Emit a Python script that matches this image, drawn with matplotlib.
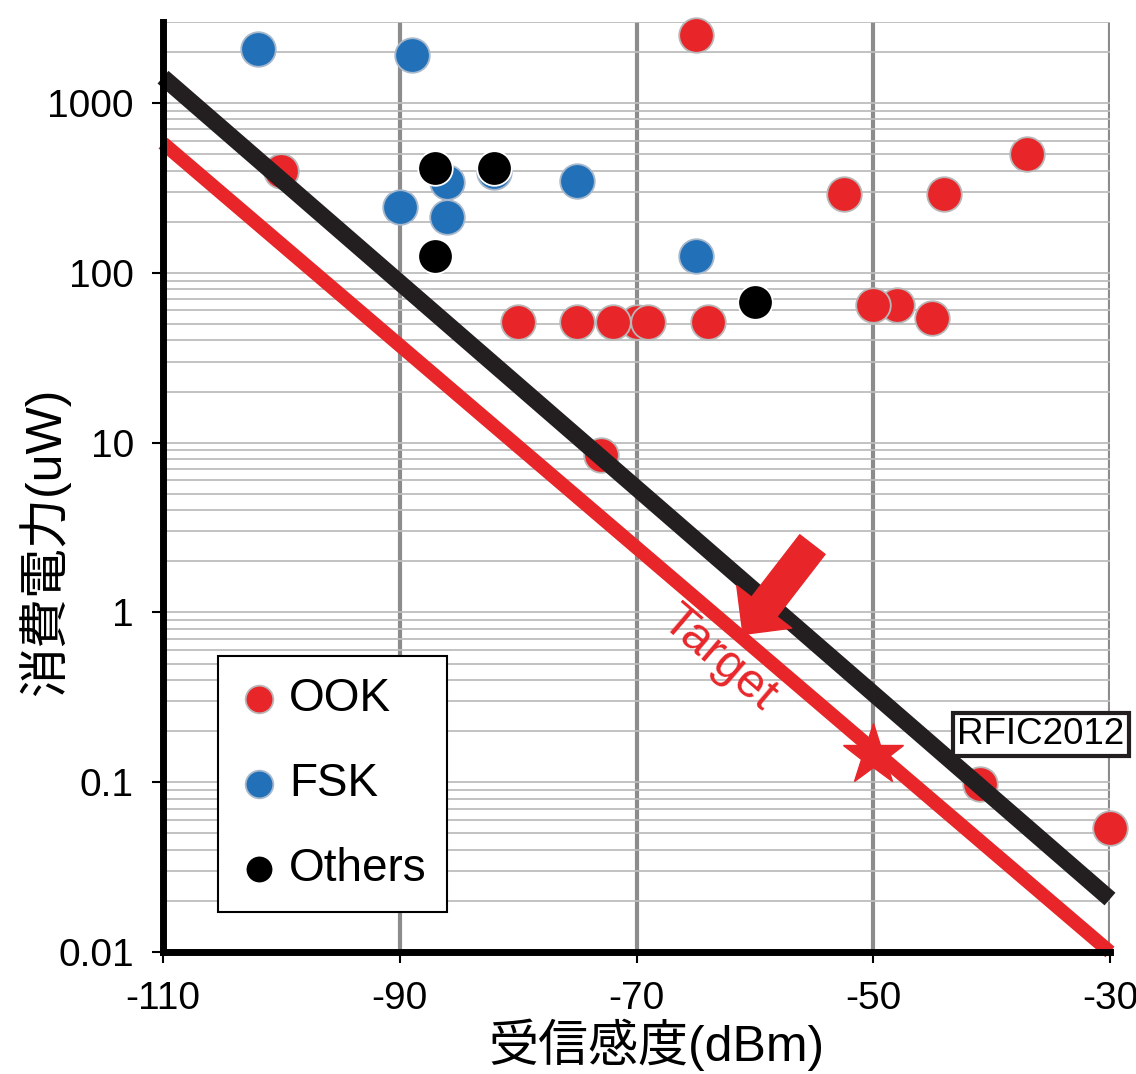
import matplotlib
matplotlib.use('Agg')
import matplotlib.pyplot as plt
from matplotlib.ticker import FixedLocator, FixedFormatter, LogLocator, NullFormatter

plt.rcParams['font.family'] = ['Liberation Sans', 'Noto Sans CJK JP', 'DejaVu Sans']

# data
ook_x = [-65, -100, -80, -75, -70, -72, -69, -64, -73, -52.5, -44, -37, -48, -50, -45, -41, -30]
ook_y = [2500, 400, 51, 51, 51, 51, 51, 51, 8.5, 290, 290, 500, 65, 65, 54, 0.098, 0.054]

fsk_x = [-102, -89, -90, -86, -86, -82, -75, -65]
fsk_y = [2080, 1920, 245, 345, 212, 395, 348, 126]

oth_x = [-87, -82, -87, -60]
oth_y = [415, 415, 126, 67]

# trend lines (end points)
line_x = [-110, -30]
rfic_y = [1420, 0.0205]
target_y = [580, 0.0100]

star_x, star_y = -50, 0.145

xticks = [-110, -90, -70, -50, -30]
yticks = [0.01, 0.1, 1, 10, 100, 1000]
ytick_labels = ['0.01', '0.1', '1', '10', '100', '1000']

red = '#e8262a'
blue = '#2271b8'
black = '#000000'

fig = plt.figure(figsize=(11.36, 10.74), dpi=100)
ax = fig.add_axes([0.1435, 0.1136, 0.8336, 0.8659])

ax.set_yscale('log')
ax.set_xlim(-110, -30)
ax.set_ylim(0.01, 3000)

# grid
ax.yaxis.set_minor_locator(LogLocator(base=10, subs=range(2, 10)))
ax.yaxis.set_minor_formatter(NullFormatter())
ax.grid(which='both', axis='y', color='#bdbdbd', lw=1.3, zorder=0)
for gx in xticks[1:]:
    ax.axvline(gx, color='#8c8c8c', lw=3, zorder=0.5)

ax.scatter(ook_x, ook_y, s=620, c=red, edgecolors='#b8b8b8', linewidths=1.3, zorder=3, label='OOK', clip_on=False)
ax.scatter(fsk_x, fsk_y, s=620, c=blue, edgecolors='#a9b9cc', linewidths=1.3, zorder=3, label='FSK', clip_on=False)
ax.scatter(oth_x, oth_y, s=620, c=black, edgecolors='white', linewidths=1.3, zorder=3, label='Others', clip_on=False)

ax.plot(line_x, rfic_y, color='#231f20', lw=12, solid_capstyle='butt', zorder=4, clip_on=False)
ax.plot(line_x, target_y, color=red, lw=10, solid_capstyle='butt', zorder=4, clip_on=False)
ax.plot(star_x, star_y, marker='*', ms=46, color=red, mec=red, zorder=5, clip_on=False)

ax.annotate('', xy=(-61.0, 0.742), xytext=(-55.14, 2.51),
            arrowprops=dict(arrowstyle='simple,head_length=1.25,head_width=2.5,tail_width=1.15',
                            mutation_scale=20, color=red, shrinkA=0, shrinkB=0),
            zorder=6)

ax.text(-63.0, 0.53, 'Target', color=red, fontsize=35, rotation=-40.5,
        rotation_mode='anchor', ha='center', va='center', zorder=6)

ax.text(-35.84, 0.191, 'RFIC2012', fontsize=26.5, ha='center', va='center', zorder=6,
        bbox=dict(boxstyle='square,pad=0.12', fc='white', ec='#231f20', lw=3), clip_on=False)

# axes styling
for s in ['top', 'right']:
    ax.spines[s].set_visible(False)
for s in ['left', 'bottom']:
    ax.spines[s].set_linewidth(5)
    ax.spines[s].set_color('black')
    ax.spines[s].set_zorder(5)

ax.set_xticks(xticks)
ax.set_xticklabels([str(v) for v in xticks])
ax.yaxis.set_major_locator(FixedLocator(yticks))
ax.yaxis.set_major_formatter(FixedFormatter(ytick_labels))
ax.tick_params(which='major', direction='out', length=8, width=1.5, labelsize=28, pad=13)
ax.tick_params(which='minor', length=0)

ax.set_xlabel('受信感度(dBm)', fontsize=36)
ax.set_ylabel('消費電力(uW)', fontsize=36)
ax.xaxis.set_label_coords(0.521, -0.072)
ax.yaxis.set_label_coords(-0.098, 0.441)

leg = ax.legend(loc='lower left', bbox_to_anchor=(0.058, 0.043), borderaxespad=0,
                fontsize=33, markerscale=0.8, handlelength=0.9, handletextpad=0.2,
                borderpad=0.45, labelspacing=0.9, fancybox=False, framealpha=1,
                edgecolor='black')
leg.get_frame().set_linewidth(1.5)
leg.set_zorder(7)

fig.savefig('out.png', dpi=100)
